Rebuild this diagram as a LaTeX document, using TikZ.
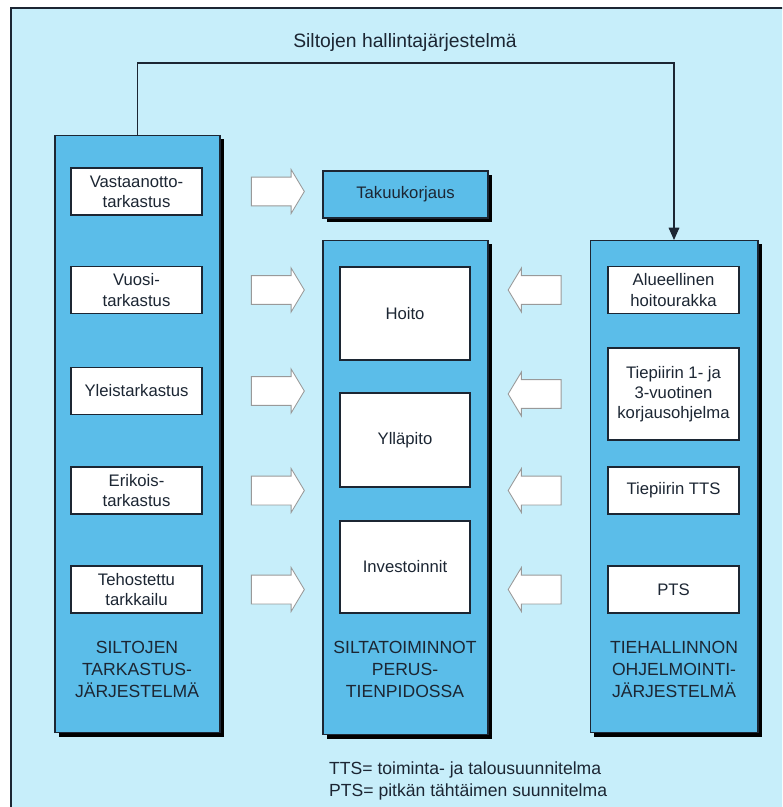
\documentclass[tikz,border=0pt]{standalone}
\usepackage{fontspec}
\setmainfont{Liberation Sans}
\usetikzlibrary{arrows.meta,shapes.arrows,shadows}
\definecolor{bgcyan}{HTML}{C7EEFA}
\definecolor{colblue}{HTML}{5BBDE9}
\definecolor{lineink}{HTML}{1C2633}

\begin{document}
\begin{tikzpicture}[x=0.02cm, y=-0.02cm,
    font=\fontsize{9.5}{11.5}\selectfont, text=lineink,
    col/.style={rectangle,draw=lineink,line width=0.6pt,fill=colblue,
                minimum width=3.3cm,inner sep=0pt,outer sep=0pt,
                drop shadow={shadow xshift=0.08cm,shadow yshift=-0.08cm,fill=black,opacity=1}},
    item/.style={rectangle,draw=lineink,line width=0.8pt,fill=white,
                 minimum width=2.62cm,minimum height=0.94cm,align=center,inner sep=0pt},
    caption/.style={align=center,font=\fontsize{10}{12.5}\selectfont},
    feed/.style={single arrow,draw=black!40,fill=white,line width=0.5pt,
                 minimum width=0pt,minimum height=1.06cm,single arrow head extend=0.15cm,
                 single arrow tip angle=118,inner xsep=0pt,inner ysep=0.28cm},
    back/.style={feed,shape border rotate=180},
    link/.style={-{Triangle[length=7pt,width=6pt]},line width=0.8pt,draw=lineink}]

  \useasboundingbox (0,0) rectangle (782,807);
  \clip (0,0) rectangle (782,807);
  \fill[white] (0,0) rectangle (782,807);
  \draw[fill=bgcyan,line width=1.4pt,draw=lineink] (11,8) rectangle (800,820);

  % the three columns
  \node[col,minimum height=11.96cm] (lcol) at (137.5,434) {};
  \node[col,minimum height=9.9cm] (mcol) at (405.5,487.5) {};
  \node[col,minimum width=3.36cm,minimum height=9.86cm] (rcol) at (674,486.5) {};
  \node[col,minimum height=0.94cm] (takuu) at (405.5,194.5) {Takuukorjaus};

  \node[font=\fontsize{11}{13}\selectfont] (title) at (405,43) {Siltojen hallintajärjestelmä};
  \draw[link] (lcol.north) -- ++(0,-72) -| (rcol.north);

  % inspections
  \node[item] (vast)  at (136.5,191.5) {Vastaanotto-\\tarkastus};
  \node[item] (vuosi) at (136.5,290)   {Vuosi-\\tarkastus};
  \node[item] (yleis) at (136.5,391)   {Yleistarkastus};
  \node[item] (erik)  at (136.5,490.5) {Erikois-\\tarkastus};
  \node[item] (teho)  at (136.5,589.5) {Tehostettu\\tarkkailu};
  \node[caption] (lcap) at (137,669) {SILTOJEN\\TARKASTUS-\\JÄRJESTELMÄ};

  % maintenance
  \node[item,minimum width=2.6cm,minimum height=1.86cm] (hoito) at (405,313.5) {Hoito};
  \node[item,minimum width=2.6cm,minimum height=1.88cm] (ylla)  at (405,440)   {Ylläpito};
  \node[item,minimum width=2.6cm,minimum height=1.84cm] (inv)   at (405,567)   {Investoinnit};
  \node[caption] (mcap) at (405,669) {SILTATOIMINNOT\\PERUS-\\TIENPIDOSSA};

  % programming
  \node[item] (alue) at (673.5,290) {Alueellinen\\hoitourakka};
  \node[item,minimum height=1.84cm] (kor) at (673.5,394) {Tiepiirin 1- ja\\3-vuotinen\\korjausohjelma};
  \node[item] (tts)  at (673.5,490.5) {Tiepiirin TTS};
  \node[item] (pts)  at (673.5,589.5) {PTS};
  \node[caption] (rcap) at (674,669) {TIEHALLINNON\\OHJELMOINTI-\\JÄRJESTELMÄ};

  % block arrows
  \node[feed] (f1) at (273.5,191.5) {};
  \node[feed] (f2) at (273.5,290) {};
  \node[feed] (f3) at (273.5,391) {};
  \node[feed] (f4) at (273.5,490.5) {};
  \node[feed] (f5) at (273.5,589.5) {};
  \node[back] (b1) at (539,290) {};
  \node[back] (b2) at (539,394) {};
  \node[back] (b3) at (539,490.5) {};
  \node[back] (b4) at (539,589.5) {};

  \node[anchor=west,align=left,font=\fontsize{10}{13}\selectfont] (note) at (323,781)
       {TTS= toiminta- ja talousuunnitelma\\PTS= pitkän tähtäimen suunnitelma};
\end{tikzpicture}
\end{document}
